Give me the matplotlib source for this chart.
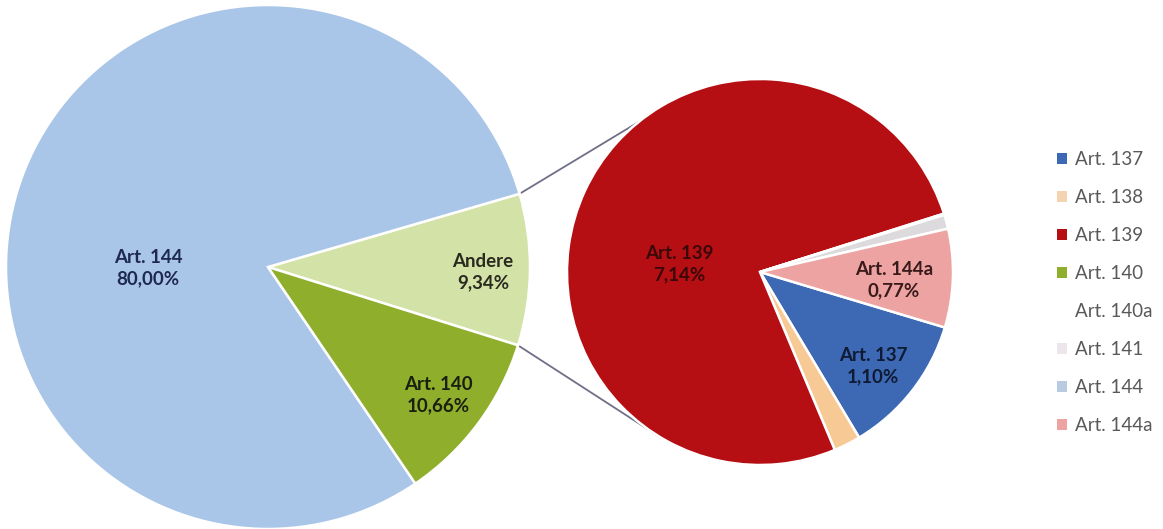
import numpy as np
import matplotlib.pyplot as plt
from matplotlib.patches import Patch

plt.rcParams['font.family'] = ['Lato', 'DejaVu Sans']

# main pie (percent of total)
main_labels = ["Andere", "Art. 144", "Art. 140"]
main_values = [9.34, 80.00, 10.66]
main_colors = ["#d3e2a6", "#a9c6e8", "#8fae2c"]

# breakdown of "Andere" (percent of total)
sub_labels = ["Art. 137", "Art. 138", "Art. 139", "Art. 140a", "Art. 141", "Art. 144a"]
sub_values = [1.10, 0.21, 7.14, 0.01, 0.11, 0.77]
sub_colors = ["#3d68b3", "#f6c995", "#b50f14", "#ffffff", "#dcdadc", "#eca3a2"]

legend_labels = ["Art. 137", "Art. 138", "Art. 139", "Art. 140", "Art. 140a",
                 "Art. 141", "Art. 144", "Art. 144a"]
legend_colors = ["#3d68b3", "#f3d3b0", "#b50f14", "#8fae2c", "#ffffff",
                 "#ece6ec", "#b9cbe0", "#eca3a2"]

W, H = 1163, 529
fig = plt.figure(figsize=(W / 100, H / 100), dpi=100)
ax = fig.add_axes([0, 0, 1, 1])

main_c, main_r = (268, H - 267), 262
sub_c, sub_r = (760, H - 272), 193

# main pie: "Andere" centered roughly on the right
wedges_main, _ = ax.pie(main_values, colors=main_colors, startangle=-17.4,
                        center=main_c, radius=main_r, counterclock=True,
                        wedgeprops=dict(edgecolor="white", linewidth=1.8),
                        frame=True)

wedges_sub, _ = ax.pie(sub_values, colors=sub_colors, startangle=-16.7,
                       center=sub_c, radius=sub_r, counterclock=False,
                       wedgeprops=dict(edgecolor="white", linewidth=1.8),
                       frame=True)
ax.set_xlim(0, W)
ax.set_ylim(0, H)
ax.set_aspect("equal")
ax.axis("off")

# connector lines from "Andere" slice to the secondary pie
andere = wedges_main[0]
for ang_main, ang_sub in [(andere.theta2, 129.0), (andere.theta1, -121.0)]:
    a1 = np.deg2rad(ang_main)
    a2 = np.deg2rad(ang_sub)
    x1 = main_c[0] + main_r * np.cos(a1)
    y1 = main_c[1] + main_r * np.sin(a1)
    x2 = sub_c[0] + sub_r * np.cos(a2)
    y2 = sub_c[1] + sub_r * np.sin(a2)
    ax.plot([x1, x2], [y1, y2], color="#6f6f88", lw=1.3, zorder=0.5)

# slice labels
lab_kw = dict(ha="center", va="center", fontsize=13.5, fontweight="bold",
              linespacing=1.3)
ax.text(148, H - 268, "Art. 144\n80,00%", color="#1f2850", **lab_kw)
ax.text(483, H - 272, "Andere\n9,34%", color="#2a2a20", **lab_kw)
ax.text(438, H - 395, "Art. 140\n10,66%", color="#1a2010", **lab_kw)
ax.text(679, H - 264, "Art. 139\n7,14%", color="#3a0808", **lab_kw)
ax.text(894, H - 280, "Art. 144a\n0,77%", color="#3a1a1a", **lab_kw)
ax.text(873, H - 366, "Art. 137\n1,10%", color="#0f1a35", **lab_kw)

handles = [Patch(facecolor=c, edgecolor="none") for c in legend_colors]
leg = ax.legend(handles, legend_labels, loc="upper left",
                bbox_to_anchor=(1040 / W, 1 - 134 / H), frameon=False,
                fontsize=13.5, handlelength=0.55, handleheight=0.55,
                handletextpad=0.4, labelspacing=1.12)
for t in leg.get_texts():
    t.set_color("#595959")

fig.savefig("out.png", dpi=100)
